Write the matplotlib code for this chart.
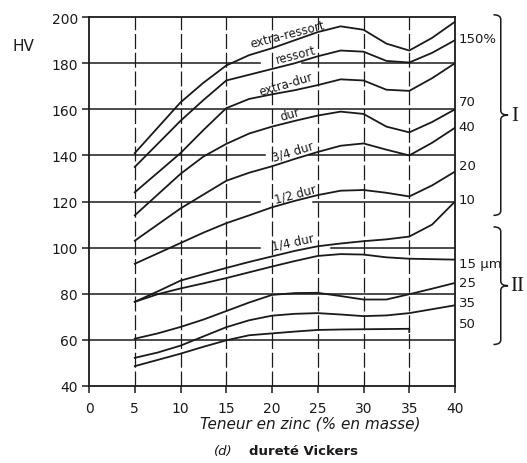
import numpy as np
import matplotlib.pyplot as plt
from matplotlib.path import Path
from matplotlib.patches import PathPatch

# teneur en zinc (% en masse)
zinc = [5, 7.5, 10, 12.5, 15, 17.5, 20, 22.5, 25, 27.5, 30, 32.5, 35, 37.5, 40]

# groupe I : états écrouis (HV)
extra_ressort = [141, 152, 163, 171.5, 179, 183.5, 186.5, 190, 193.5, 196, 194.5, 188.5, 185.5, 191, 198]
ressort = [135, 145, 155, 164, 172.5, 175, 177.5, 180, 183, 185.5, 185, 181, 180.3, 184.5, 190]
extra_dur = [124, 132.5, 141, 151, 160.5, 164.5, 166.5, 168.3, 170.5, 173, 172.5, 168.5, 168, 173.5, 180]
dur = [114, 123, 132, 139.5, 145, 149.5, 152.5, 155, 157.3, 159, 158, 152.5, 150, 154.5, 160]
trois_quarts_dur = [103, 110, 117, 123, 129, 132.5, 135.3, 138.5, 141.5, 144.2, 145.2, 142.5, 140, 145.5, 152]
demi_dur = [93, 97.5, 102, 106.5, 110.6, 114, 117.5, 120.3, 122.8, 124.7, 125, 123.8, 122.2, 127, 133]
quart_dur = [76.5, 81, 85.7, 88.5, 91.2, 93.8, 96.2, 98.6, 100.6, 101.8, 102.8, 103.6, 104.8, 110, 120]

# groupe II : états recuits, taille de grain
grain_15 = [76.5, 79.8, 82.3, 84.5, 86.8, 89.3, 91.8, 94.2, 96.4, 97.2, 97, 95.8, 95.2, 95, 94.8]
grain_25 = [60.5, 62.8, 65.6, 68.8, 72.5, 76.2, 79.5, 80.3, 80.4, 79, 77.5, 77.5, 79.8, 82.2, 84.7]
grain_35 = [52.2, 54.5, 57.5, 61.5, 65.5, 68.5, 70.5, 71.3, 71.6, 71, 70.3, 70.6, 71.6, 73.3, 75]
zinc_50 = [5, 7.5, 10, 12.5, 15, 17.5, 20, 22.5, 25, 27.5, 30, 32.5, 35, 35]
grain_50 = [48.6, 51.3, 54, 57, 59.8, 62, 62.8, 63.6, 64.3, 64.5, 64.6, 64.7, 64.8, 63.4]

courbes = [extra_ressort, ressort, extra_dur, dur, trois_quarts_dur, demi_dur, quart_dur,
           grain_15, grain_25, grain_35]

# étiquettes des courbes (texte, x, HV, rotation)
noms = ['extra-ressort', 'ressort', 'extra-dur', 'dur', '3/4 dur', '1/2 dur', '1/4 dur']
noms_x = [21.7, 22.6, 21.5, 22.0, 22.3, 22.5, 22.3]
noms_hv = [192.8, 183.6, 171.2, 158, 142, 123.5, 102.5]
noms_rot = [14.5, 14.5, 16.5, 16, 17, 15, 12]

# étiquettes à droite
etiq_droite = ['150%', '70', '40', '20', '10', '15 µm', '25', '35', '50']
etiq_hv = [190.5, 163.5, 152.6, 135.7, 120.9, 93, 84.7, 76, 67]

# lignes horizontales et leurs interruptions
niveaux = [60, 80, 100, 120, 140, 160, 180]
coupures = {100: (18.7, 26.5), 120: (18.7, 24.5), 140: (19.2, 24.0), 180: (18.7, 23.3)}

noir = '#1a1a1a'
plt.rcParams['font.family'] = ['DejaVu Sans']

fig = plt.figure(figsize=(5.27, 4.64), dpi=100)
ax = fig.add_axes([0.1689, 0.166, 0.6945, 0.795])
ax.set_xlim(0, 40)
ax.set_ylim(40, 200)

# grille horizontale
for h in niveaux:
    if h in coupures:
        a, b = coupures[h]
        ax.plot([0, a], [h, h], color=noir, lw=1.1)
        ax.plot([b, 40], [h, h], color=noir, lw=1.1)
    else:
        ax.plot([0, 40], [h, h], color=noir, lw=1.1)

# verticales en tirets
for xv in range(5, 40, 5):
    ax.plot([xv, xv], [40, 200], color=noir, lw=0.9, linestyle=(0, (12, 3)))

# courbes
for c in courbes:
    ax.plot(zinc, c, color=noir, lw=1.3)
ax.plot(zinc_50, grain_50, color=noir, lw=1.3)

for s, x, y, r in zip(noms, noms_x, noms_hv, noms_rot):
    ax.text(x, y, s, rotation=r, rotation_mode='anchor', ha='center', va='center',
            fontsize=8.5, color=noir)

for s, y in zip(etiq_droite, etiq_hv):
    ax.text(40.4, y, s, ha='left', va='center', fontsize=9.5, color=noir, clip_on=False)


# accolades
def accolade(y0, y1, x0=44.2, w=0.8, r=2.0):
    ym = (y0 + y1) / 2
    verts = [(x0, y1), (x0 + w, y1), (x0 + w, y1 - r), (x0 + w, ym + r),
             (x0 + w, ym), (x0 + 2 * w, ym),
             (x0 + 2 * w, ym), (x0 + w, ym), (x0 + w, ym - r), (x0 + w, y0 + r),
             (x0 + w, y0), (x0, y0)]
    codes = [Path.MOVETO, Path.CURVE3, Path.CURVE3, Path.LINETO,
             Path.CURVE3, Path.CURVE3,
             Path.MOVETO, Path.CURVE3, Path.CURVE3, Path.LINETO,
             Path.CURVE3, Path.CURVE3]
    ax.add_patch(PathPatch(Path(verts, codes), fill=False, lw=1.1, ec=noir, clip_on=False))
    return ym


ym1 = accolade(114, 201)
ym2 = accolade(58, 109)
ax.text(46.1, ym1, 'I', fontsize=15, family=['Liberation Serif', 'DejaVu Serif'],
        ha='left', va='center', color=noir, clip_on=False)
ax.text(46.0, ym2, 'II', fontsize=15, family=['Liberation Serif', 'DejaVu Serif'],
        ha='left', va='center', color=noir, clip_on=False)

# axes
for sp in ax.spines.values():
    sp.set_linewidth(1.3)
    sp.set_color(noir)
ax.set_xticks(range(0, 41, 5))
ax.set_yticks(range(40, 201, 20))
ax.tick_params(direction='out', length=5, width=1.1, color=noir, labelsize=10,
               labelcolor=noir)
ax.tick_params(axis='x', pad=6)
ax.tick_params(axis='y', pad=3)

fig.text(0.044, 0.899, 'HV', fontsize=11, ha='center', va='center', color=noir)
fig.text(0.588, 0.086, 'Teneur en zinc (% en masse)', fontsize=11, style='italic',
         ha='center', va='center', color=noir)
fig.text(0.423, 0.026, '(d)', fontsize=9.5, style='italic', ha='center', va='center', color=noir)
fig.text(0.575, 0.026, 'dureté Vickers', fontsize=9.5, fontweight='bold',
         ha='center', va='center', color=noir)

fig.savefig('out.png', dpi=100)
